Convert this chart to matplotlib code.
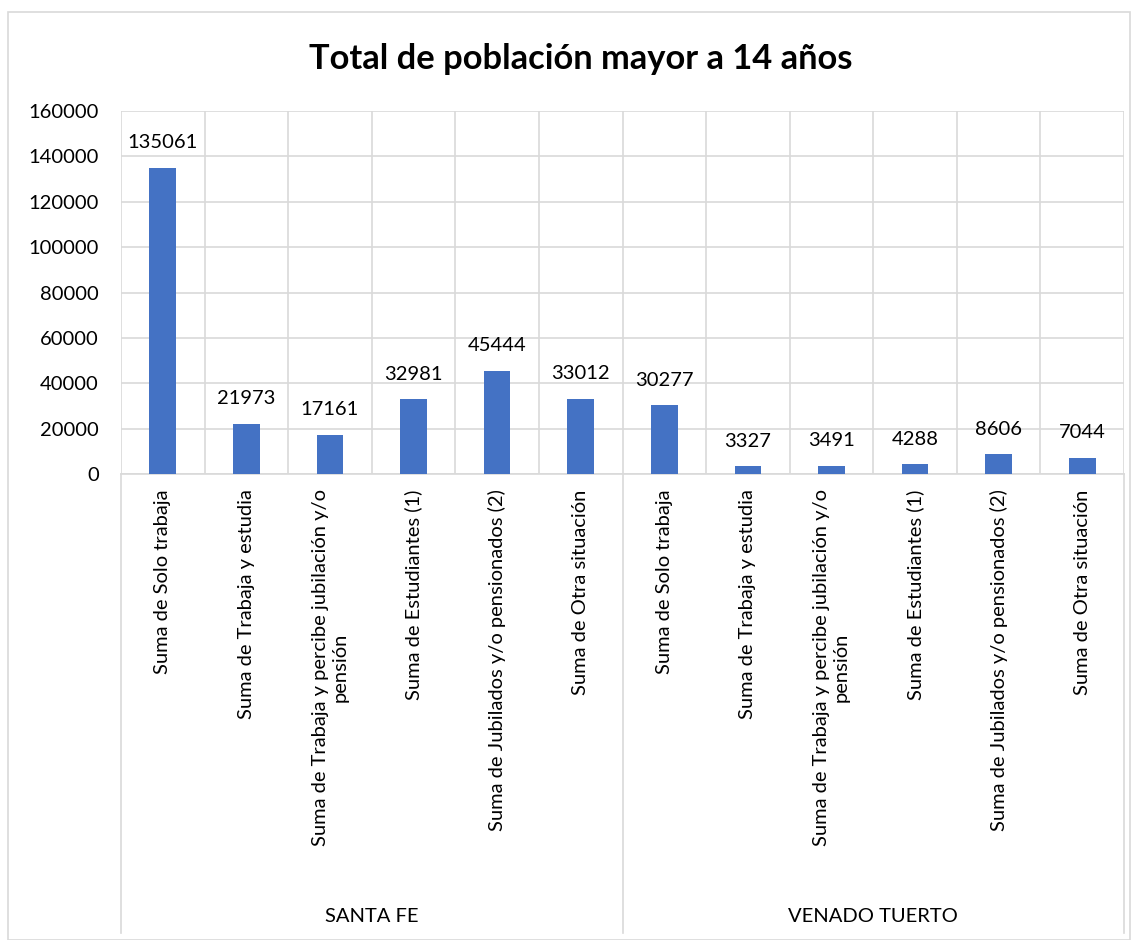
import matplotlib
matplotlib.use("Agg")
import matplotlib.pyplot as plt
import numpy as np
from matplotlib.patches import Rectangle

plt.rcParams['font.family'] = ['Lato', 'DejaVu Sans']

groups = ["SANTA FE", "VENADO TUERTO"]
categories = [
    "Suma de Solo trabaja",
    "Suma de Trabaja y estudia",
    "Suma de Trabaja y percibe jubilación y/o\npensión",
    "Suma de Estudiantes (1)",
    "Suma de Jubilados y/o pensionados (2)",
    "Suma de Otra situación",
]
santa_fe = [135061, 21973, 17161, 32981, 45444, 33012]
venado_tuerto = [30277, 3327, 3491, 4288, 8606, 7044]
yticks = [0, 20000, 40000, 60000, 80000, 100000, 120000, 140000, 160000]
title = "Total de población mayor a 14 años"

values = santa_fe + venado_tuerto
labels = categories + categories
n = len(values)
x = np.arange(n)

W, H = 1137, 940
fig = plt.figure(figsize=(W / 100, H / 100), dpi=100)
fig.patch.set_facecolor('white')

# chart border
fig.patches.append(Rectangle((8 / W, 0), (1130 - 8) / W, 1 - 12 / H,
                             transform=fig.transFigure, fill=False,
                             edgecolor='#D9D9D9', linewidth=1.2))

left, right, top, bottom = 121, 1124, 111, 474
ax = fig.add_axes([left / W, 1 - bottom / H, (right - left) / W, (bottom - top) / H])

grid_c = '#D9D9D9'
bar_c = '#4472C4'

ax.bar(x, values, width=0.32, color=bar_c, zorder=3)
ax.set_xlim(-0.5, n - 0.5)
ax.set_ylim(0, 160000)
ax.set_yticks(yticks)
ax.set_yticklabels([str(v) for v in yticks], fontsize=14.5, color='#000000')
ax.set_xticks(np.arange(-0.5, n, 1))
ax.set_xticklabels([])
ax.tick_params(axis='both', length=0)
ax.tick_params(axis='y', pad=16)
ax.grid(True, color=grid_c, linewidth=1.2, zorder=0)
for s in ['top', 'right', 'left']:
    ax.spines[s].set_visible(False)
ax.spines['bottom'].set_color(grid_c)
ax.spines['bottom'].set_linewidth(1.2)

for xi, v in zip(x, values):
    ax.annotate(str(v), (xi, v), xytext=(0, 12), textcoords='offset points',
                ha='center', va='bottom', fontsize=14.5, color='#000000')

for xi, lab in zip(x, labels):
    ax.annotate(lab, (xi, 0), xycoords=('data', 'axes fraction'),
                xytext=(0, -11), textcoords='offset points',
                rotation=90, ha='center', va='top', fontsize=14.5,
                multialignment='center', color='#000000')

# multi-level separators
axh = bottom - top
ybot = -(933 - bottom) / axh
trans = ax.get_xaxis_transform()
for xb in [-0.5, 5.5, 11.5]:
    ax.plot([xb, xb], [0, ybot], transform=trans, color=grid_c,
            linewidth=1.2, clip_on=False)

for gi, g in enumerate(groups):
    ax.text(gi * 6 + 2.5, -(916 - bottom) / axh, g, transform=trans,
            ha='center', va='center', fontsize=14.5, color='#000000')

fig.text(0.5 * (308 + 853) / W, 1 - 59 / H, title, ha='center', va='center',
         fontsize=24.8, fontweight='bold', color='#000000')

fig.savefig('out.png', dpi=100)
